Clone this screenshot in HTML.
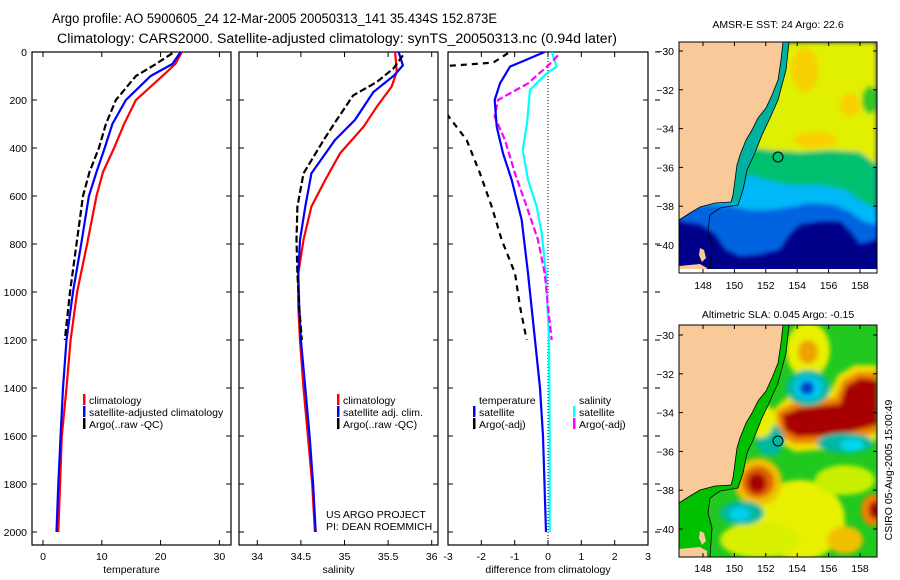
<!DOCTYPE html>
<html><head><meta charset="utf-8"><style>
body{margin:0;background:#fff;}
svg{display:block;font-family:"Liberation Sans",sans-serif;}
</style></head><body>
<svg id="chart" width="900" height="580" viewBox="0 0 900 580" xmlns="http://www.w3.org/2000/svg">
<defs>
<clipPath id="cp1"><rect x="32" y="52" width="199" height="493"/></clipPath>
<clipPath id="cp2"><rect x="239" y="52" width="199" height="493"/></clipPath>
<clipPath id="cp3"><rect x="448" y="52" width="200" height="493"/></clipPath>
<clipPath id="cm1"><rect x="679" y="42" width="198" height="231"/></clipPath>
<clipPath id="cm2"><rect x="679" y="325" width="198" height="232"/></clipPath>
<filter id="bl" x="-10%" y="-10%" width="120%" height="120%"><feGaussianBlur stdDeviation="2.5"/></filter>
</defs>
<rect width="900" height="580" fill="#fff"/>
<text x="52" y="23" font-size="13.5" textLength="445" lengthAdjust="spacingAndGlyphs">Argo profile: AO 5900605_24 12-Mar-2005 20050313_141 35.434S 152.873E</text>
<text x="57" y="43" font-size="13.5" textLength="560" lengthAdjust="spacingAndGlyphs">Climatology: CARS2000. Satellite-adjusted climatology: synTS_20050313.nc (0.94d later)</text>

<g id="panels"></g>

<!-- Map 1: SST -->
<g>
<text x="778" y="28" font-size="10.5" text-anchor="middle">AMSR-E SST: 24 Argo: 22.6</text>
<g clip-path="url(#cm1)">
<rect x="679" y="42" width="198" height="231" fill="#000088"/>
<g filter="url(#bl)">
<polygon fill="#0064e0" points="679,42 877,42 877,240 860,245 850,232 840,222 820,222 800,225 790,235 780,250 760,255 740,257 725,250 715,235 700,225 679,222"/>
<polygon fill="#00b8f8" points="679,42 877,42 877,225 865,222 850,212 835,205 810,203 790,207 770,210 750,210 735,207 720,205 679,205"/>
<polygon fill="#00c070" points="679,42 877,42 877,210 860,200 845,190 820,185 790,185 765,180 750,175 740,180 679,180"/>
<polygon fill="#e0f000" points="679,42 877,42 877,165 860,152 830,150 800,152 770,150 755,148 679,148"/>
<ellipse cx="805" cy="70" rx="14" ry="22" fill="#f8d000"/>
<ellipse cx="850" cy="105" rx="10" ry="12" fill="#f8d000"/>
<ellipse cx="815" cy="140" rx="22" ry="8" fill="#f8d000"/>
<ellipse cx="870" cy="100" rx="8" ry="14" fill="#30c820"/>
</g>
<polygon fill="#00b0a0" points="783,42 789,42 786,70 778,100 770,118 762,135 754,155 747,170 743,190 738,205 731,202 735,180 737,165 740,155 746,140 752,130 758,118 766,108 772,95 778,80 781,60"/>
<polygon fill="#f9c99a" stroke="#000" stroke-width="0.8" points="679,42 783,42 781,60 778,80 772,95 766,108 758,118 752,130 746,140 740,155 737,165 735,180 733,195 731,202 715,203 700,207 690,213 679,220"/>
<polygon fill="#f9c99a" points="679,266 700,264 707,268 707,273 679,273"/>
<polygon fill="#f9c99a" points="700,248 704,250 706,258 702,262 699,255"/>
<polyline fill="none" stroke="#000" stroke-width="0.8" points="789,42 786,70 778,100 770,118 762,135 754,155 747,170 743,190 738,205 720,208 710,215 708,230 712,245 710,273"/>
<rect x="679" y="269" width="198" height="4" fill="#fff"/>
<circle cx="778" cy="157" r="5" fill="#00c070" stroke="#000" stroke-width="1"/>
</g>
<rect x="679" y="42" width="198" height="231" fill="none" stroke="#000" stroke-width="1"/>
<g id="map1ticks"></g>
</g>

<!-- Map 2: SLA -->
<g>
<text x="778" y="318" font-size="10.5" text-anchor="middle">Altimetric SLA: 0.045 Argo: -0.15</text>
<g clip-path="url(#cm2)">
<rect x="679" y="325" width="198" height="232" fill="#20c820"/>
<g filter="url(#bl)">
<ellipse cx="800" cy="520" rx="45" ry="40" fill="#e8f000"/>
<ellipse cx="760" cy="540" rx="40" ry="18" fill="#d8f000"/>
<ellipse cx="845" cy="480" rx="30" ry="15" fill="#c8f000"/>
<ellipse cx="808" cy="350" rx="22" ry="28" fill="#e8f000"/>
<ellipse cx="808" cy="352" rx="10" ry="12" fill="#f0a000"/>
<polygon fill="#f0e000" points="770,412 790,395 830,392 838,375 855,365 877,365 877,440 850,448 820,450 795,452 775,440"/>
<polygon fill="#f08000" points="776,412 795,402 835,398 843,380 858,372 877,372 877,432 850,440 820,443 795,444 780,436"/>
<polygon fill="#a80000" points="782,415 800,408 840,404 846,386 860,378 877,380 877,425 850,432 820,436 797,437 785,430"/>
<ellipse cx="758" cy="482" rx="24" ry="24" fill="#f0c000"/>
<ellipse cx="758" cy="482" rx="16" ry="16" fill="#e06000"/>
<ellipse cx="757" cy="483" rx="9" ry="10" fill="#a80000"/>
<ellipse cx="808" cy="388" rx="22" ry="18" fill="#00b8a0"/>
<ellipse cx="808" cy="388" rx="14" ry="12" fill="#00c8f0"/>
<ellipse cx="807" cy="388" rx="7" ry="7" fill="#0040c8"/>
<ellipse cx="742" cy="513" rx="22" ry="12" fill="#00b8a0"/>
<ellipse cx="740" cy="514" rx="10" ry="7" fill="#00d0f0"/>
<ellipse cx="845" cy="443" rx="28" ry="10" fill="#00b8a0"/>
<ellipse cx="852" cy="445" rx="12" ry="6" fill="#00d8f0"/>
<ellipse cx="770" cy="440" rx="14" ry="16" fill="#00b8a0"/>
<ellipse cx="873" cy="510" rx="12" ry="16" fill="#f08000"/>
<ellipse cx="875" cy="510" rx="6" ry="9" fill="#a80000"/>
<ellipse cx="845" cy="540" rx="18" ry="14" fill="#f0c000"/>
<ellipse cx="760" cy="420" rx="14" ry="18" fill="#e8f000"/>
</g>
<polygon fill="#00c000" points="783,325 789,325 786,353 778,383 770,401 762,418 754,438 747,453 743,473 738,488 720,491 710,498 708,513 712,528 710,557 679,557 679,503 690,496 700,490 715,486 731,485 733,478 735,463 737,448 740,438 746,423 752,413 758,401 766,391 772,378 778,363 781,343"/>
<polygon fill="#f9c99a" stroke="#000" stroke-width="0.8" points="679,325 783,325 781,343 778,363 772,378 766,391 758,401 752,413 746,423 740,438 737,448 735,463 733,478 731,485 715,486 700,490 690,496 679,503"/>
<polygon fill="#f9c99a" points="679,549 700,547 707,551 707,557 679,557"/>
<polygon fill="#f9c99a" points="700,531 704,533 706,541 702,545 699,538"/>
<polyline fill="none" stroke="#000" stroke-width="0.8" points="789,325 786,353 778,383 770,401 762,418 754,438 747,453 743,473 738,488 720,491 710,498 708,513 712,528 710,557"/>
<circle cx="778" cy="441" r="5" fill="#00b8a0" stroke="#000" stroke-width="1"/>
</g>
<rect x="679" y="325" width="198" height="232" fill="none" stroke="#000" stroke-width="1"/>
<g id="map2ticks"></g>
</g>
<text transform="translate(892,470) rotate(-90)" font-size="10.5" text-anchor="middle">CSIRO 05-Aug-2005 15:00:49</text>
</svg>
<script>
// ---- data ----
const depthTicks = [0,200,400,600,800,1000,1200,1400,1600,1800,2000];
const tempTicks = [0,10,20,30];
const salTicks = [34,34.5,35,35.5,36];
const salTickLabels = ["34","34.5","35","35.5","36"];
const diffTicks = [-3,-2,-1,0,1,2,3];

const tempClimDepth = [0,50,100,200,300,400,500,600,800,1000,1200,1400,1600,1800,2000];
const tempClim = [23.6,22.5,20.3,15.8,13.8,12.1,10.2,9.1,7.5,5.8,4.7,4.0,3.2,2.9,2.6];
const tempSatDepth = [0,50,100,200,300,400,500,600,800,1000,1200,1400,1600,1800,2000];
const tempSat = [23.4,22.0,18.3,14.1,11.8,10.5,9.1,7.8,6.5,5.1,4.0,3.4,3.0,2.6,2.3];
const tempArgoDepth = [5,50,100,200,300,400,500,600,800,1000,1200];
const tempArgo = [22.0,19.2,15.8,12.4,10.7,9.5,7.9,6.8,5.7,4.6,3.7];

const salClimDepth = [0,83,144,228,311,422,533,644,783,922,1061,1200,1400,1600,1800,2000];
const salClim = [35.58,35.6,35.54,35.37,35.22,34.95,34.78,34.62,34.53,34.47,34.47,34.49,34.53,34.58,34.63,34.66];
const salSatDepth = [0,56,97,167,283,367,506,644,783,922,1061,1200,1400,1600,1800,2000];
const salSat = [35.62,35.67,35.57,35.33,35.12,34.89,34.62,34.55,34.49,34.47,34.48,34.5,34.55,34.6,34.64,34.67];
const salArgoDepth = [14,69,125,181,283,367,506,644,783,922,1061,1200];
const salArgo = [35.67,35.56,35.37,35.1,34.91,34.76,34.53,34.46,34.45,34.46,34.48,34.51];

const dTempSatDepth = [0,61,131,200,311,422,533,700,922,1200,1400,1600,2000];
const dTempSat = [-0.1,-1.14,-1.44,-1.6,-1.54,-1.35,-1.09,-0.79,-0.6,-0.39,-0.24,-0.15,-0.06];
const dTempArgoDepth = [5,44,60,100,200,265,367,506,644,783,922,1061,1200];
const dTempArgo = [-1.2,-1.64,-3.2,-4.5,-3.4,-3.0,-2.44,-2.04,-1.69,-1.39,-0.99,-0.84,-0.64];
const dSalSatDepth = [0,61,89,158,297,408,533,644,756,922,1200,1600,2000];
const dSalSat = [0.11,0.26,-0.04,-0.54,-0.63,-0.76,-0.6,-0.34,-0.19,-0.06,0.03,0.05,0.05];
const dSalArgoDepth = [14,49,131,200,269,367,506,644,783,922,1061,1200];
const dSalArgo = [0.3,0.06,-0.6,-1.5,-1.6,-1.29,-0.99,-0.64,-0.3,-0.1,0.0,0.11];

const latTicks = [-30,-32,-34,-36,-38,-40];
const lonTicks = [148,150,152,154,156,158];

// ---- scales ----
const NS = "http://www.w3.org/2000/svg";
const TOP = 52, BOT = 545;
const yD = d => 52 + d*0.24;
const xT = t => 43 + t*5.88;
const xS = s => 257.3 + (s-34)*87.2;
const xF = v => 548 + v*33.33;
const mx = lon => 703 + (lon-148)*15.7;
const my1 = lat => 51 + (-30-lat)*19.4;
const my2 = lat => 335 + (-30-lat)*19.4;

const root = document.getElementById('panels');
function mk(tag, attrs, parent){
  const e = document.createElementNS(NS, tag);
  for (const k in attrs) e.setAttribute(k, attrs[k]);
  (parent||root).appendChild(e);
  return e;
}
function txt(x,y,s,size,anchor,parent){
  const t = mk('text',{x:x,y:y,'font-size':size,'text-anchor':anchor||'start'},parent);
  t.textContent = s;
  return t;
}

function panel(name, x0, x1, ticks, labels, xf, xlabel, showDepthLabels){
  const g = mk('g',{});
  
  
  const fr = mk('rect',{x:x0,y:TOP,width:x1-x0,height:BOT-TOP,fill:'none',stroke:'#000','stroke-width':1.2},g);
  
  
  depthTicks.forEach(d=>{
    mk('line',{x1:x0,x2:x0+5,y1:yD(d),y2:yD(d),stroke:'#000'},g);
    mk('line',{x1:x1-5,x2:x1,y1:yD(d),y2:yD(d),stroke:'#000'},g);
    if (showDepthLabels){
      const t = txt(27,yD(d)+4,String(d),10.5,'end',g);
      
      
    }
  });
  ticks.forEach((v,i)=>{
    const x = xf(v);
    mk('line',{x1:x,x2:x,y1:TOP,y2:TOP+5,stroke:'#000'},g);
    mk('line',{x1:x,x2:x,y1:BOT-5,y2:BOT,stroke:'#000'},g);
    const t = txt(x,560,labels[i],10.5,'middle',g);
    
    
  });
  const xl = txt((x0+x1)/2,573,xlabel,10.5,'middle',g);
  
  
  return g;
}
function series(name, vals, depths, xf, color, dash, clip){
  const pts = vals.map((v,i)=> xf(v).toFixed(1)+','+yD(depths[i]).toFixed(1)).join(' ');
  const a = {points:pts,fill:'none',stroke:color,'stroke-width':2.2,'clip-path':'url(#'+clip+')'};
  if (dash) a['stroke-dasharray'] = dash;
  const p = mk('polyline', a);
  
  
}
function legendEntry(x,y,color,label,name){
  const g = mk('g',{});
  
  
  if (color) mk('rect',{x:x,y:y-10,width:2.5,height:11,fill:color},g);
  txt(x+6,y,label,10.5,'start',g);
}

// panel 1 temperature
panel('temperature', 32, 231, tempTicks, tempTicks.map(String), xT, 'temperature', true);
series('temp-climatology-line', tempClim, tempClimDepth, xT, '#ff0000', null, 'cp1');
series('temp-satellite-adjusted-line', tempSat, tempSatDepth, xT, '#0000ff', null, 'cp1');
series('temp-argo-line', tempArgo, tempArgoDepth, xT, '#000000', '7,3', 'cp1');
legendEntry(83,404,'#ff0000','climatology','legend-climatology');
legendEntry(83,416,'#0000ff','satellite-adjusted climatology','legend-satellite-adjusted');
legendEntry(83,428,'#000000','Argo(..raw -QC)','legend-argo-raw');

// panel 2 salinity
panel('salinity', 239, 438, salTicks, salTickLabels, xS, 'salinity', false);
series('sal-climatology-line', salClim, salClimDepth, xS, '#ff0000', null, 'cp2');
series('sal-satellite-adjusted-line', salSat, salSatDepth, xS, '#0000ff', null, 'cp2');
series('sal-argo-line', salArgo, salArgoDepth, xS, '#000000', '7,3', 'cp2');
legendEntry(337,404,'#ff0000','climatology','legend-sal-climatology');
legendEntry(337,416,'#0000ff','satellite adj. clim.','legend-sal-satellite');
legendEntry(337,428,'#000000','Argo(..raw -QC)','legend-sal-argo');
const c1 = txt(326,518,'US ARGO PROJECT',10.5,'start');  
const c2 = txt(326,530,'PI: DEAN ROEMMICH',10.5,'start');  

// panel 3 difference
panel('difference', 448, 648, diffTicks, diffTicks.map(String), xF, 'difference from climatology', false);
depthTicks.forEach(d=>{ mk('line',{x1:655,x2:660,y1:yD(d),y2:yD(d),stroke:'#000'}); });
const zl = mk('line',{x1:xF(0),x2:xF(0),y1:TOP,y2:BOT,stroke:'#000','stroke-width':1,'stroke-dasharray':'1,2'});


series('diff-temp-argo-line', dTempArgo, dTempArgoDepth, xF, '#000000', '6,5', 'cp3');
series('diff-sal-satellite-line', dSalSat, dSalSatDepth, xF, '#00ffff', null, 'cp3');
series('diff-sal-argo-line', dSalArgo, dSalArgoDepth, xF, '#ff00ff', '7,3', 'cp3');
series('diff-temp-satellite-line', dTempSat, dTempSatDepth, xF, '#0000ff', null, 'cp3');
legendEntry(473,404,null,'temperature','legend-diff-temperature-header');
legendEntry(473,416,'#0000ff','satellite','legend-diff-temp-satellite');
legendEntry(473,428,'#000000','Argo(-adj)','legend-diff-temp-argo');
legendEntry(573,404,null,'salinity','legend-diff-salinity-header');
legendEntry(573,416,'#00ffff','satellite','legend-diff-sal-satellite');
legendEntry(573,428,'#ff00ff','Argo(-adj)','legend-diff-sal-argo');

// map ticks
function mapTicks(gid, myf, x0, x1, y0, y1, lonLabelY){
  const g = document.getElementById(gid);
  latTicks.forEach(l=>{
    const y = myf(l);
    mk('line',{x1:x0,x2:x0+4,y1:y,y2:y,stroke:'#000'},g);
    mk('line',{x1:x1-4,x2:x1,y1:y,y2:y,stroke:'#000'},g);
    const t = txt(x0-5,y+4,String(l).replace('-','\u2212'),10.5,'end',g);
    
    
  });
  lonTicks.forEach(l=>{
    const x = mx(l);
    mk('line',{x1:x,x2:x,y1:y1-4,y2:y1,stroke:'#000'},g);
    mk('line',{x1:x,x2:x,y1:y0,y2:y0+4,stroke:'#000'},g);
    const t = txt(x,lonLabelY,String(l),10.5,'middle',g);
    
    
  });
}
mapTicks('map1ticks', my1, 679, 877, 42, 273, 289);
mapTicks('map2ticks', my2, 679, 877, 325, 557, 572);
</script>
</body></html>
